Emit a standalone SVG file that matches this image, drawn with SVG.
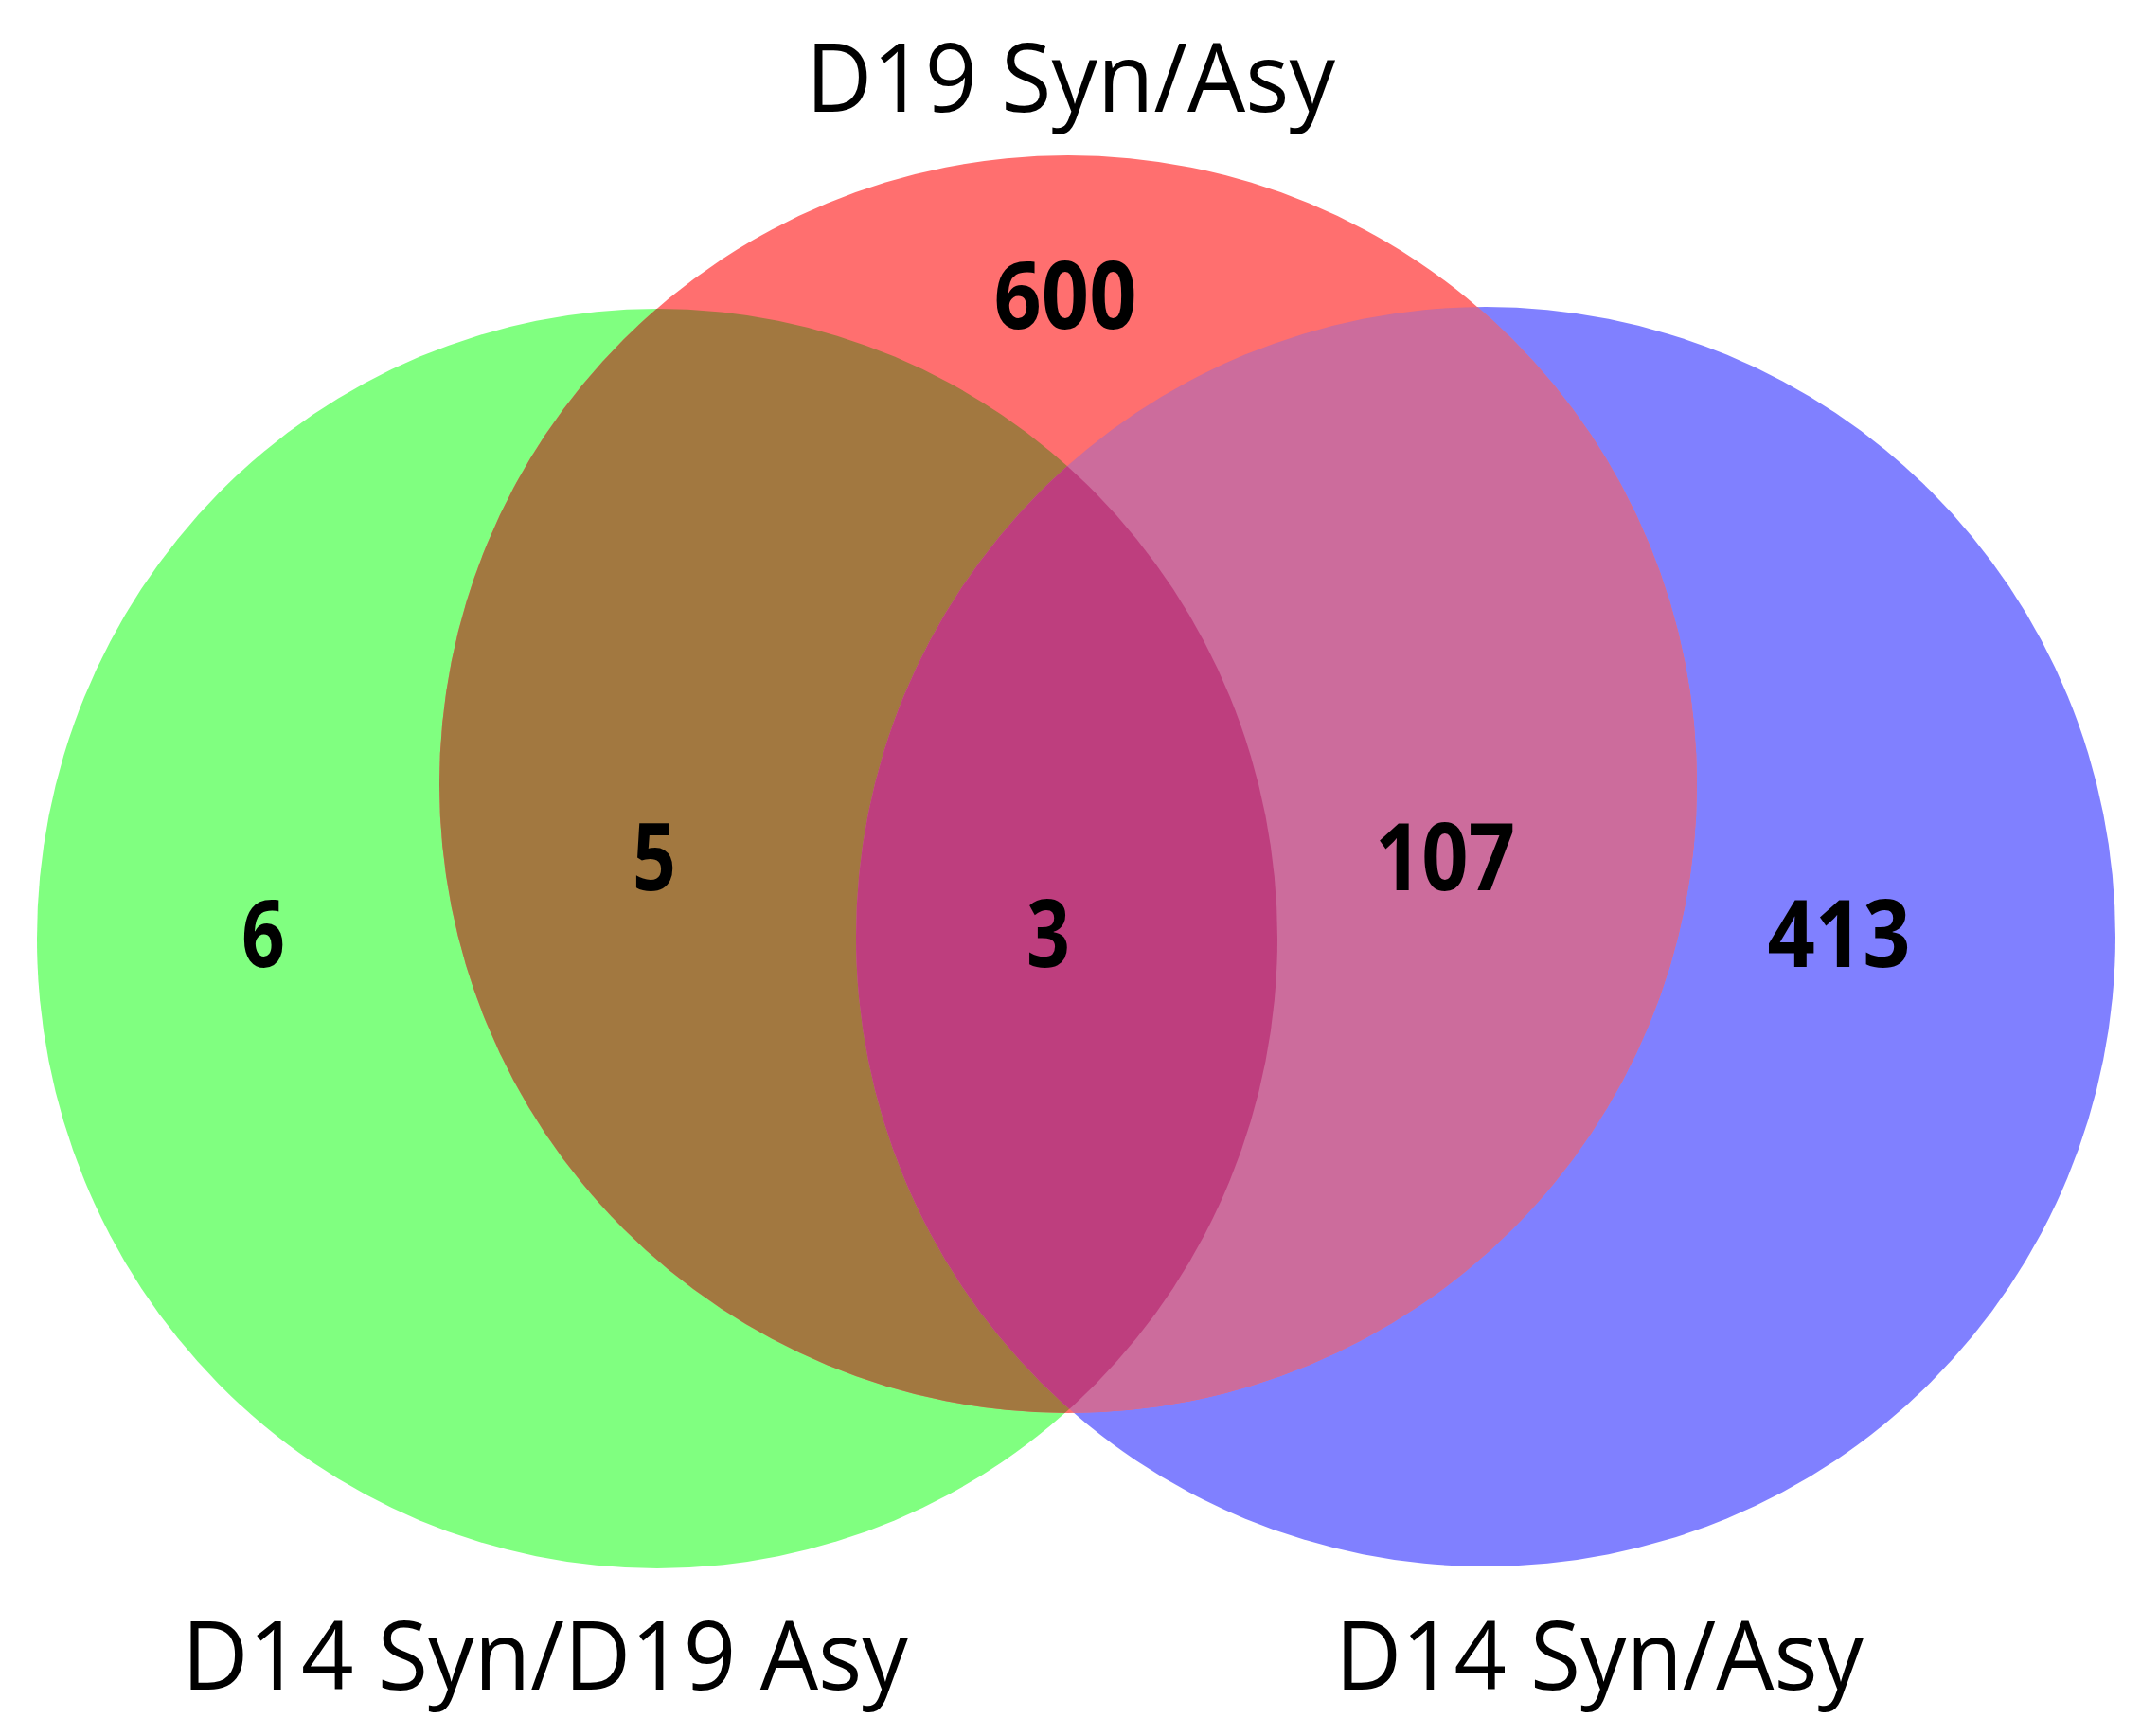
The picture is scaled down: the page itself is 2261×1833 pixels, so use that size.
<svg xmlns="http://www.w3.org/2000/svg" width="2261" height="1833" viewBox="0 0 2261 1833">
<style>
.lbl{font-family:"Open Sans","Liberation Sans",sans-serif;font-size:100px;fill:#000}
.num{font-family:"Open Sans","Liberation Sans",sans-serif;font-size:98px;font-weight:bold;fill:#000;text-anchor:middle}
</style>
<defs>
<clipPath id="cG"><ellipse cx="694" cy="991" rx="655" ry="665"/></clipPath>
<clipPath id="cB"><circle cx="1569" cy="989" r="665"/></clipPath>
</defs>
<rect width="2261" height="1833" fill="#fff"/>
<g id="set-green"><ellipse cx="694" cy="991" rx="655" ry="665" fill="#80FF80"/></g>
<g id="set-blue"><circle cx="1569" cy="989" r="665" fill="#8080FF"/></g>
<g id="set-red"><circle cx="1128" cy="828" r="664" fill="#FF6F6F"/></g>
<g id="overlap-green-red"><circle cx="1128" cy="828" r="664" fill="#A27840" clip-path="url(#cG)"/></g>
<g id="overlap-red-blue"><circle cx="1128" cy="828" r="664" fill="#CC6C9C" clip-path="url(#cB)"/></g>
<g id="overlap-all" clip-path="url(#cG)"><circle cx="1128" cy="828" r="664" fill="#BE3E7E" clip-path="url(#cB)"/></g>
<g id="connectors"></g>
<g id="labels">
<text class="lbl" x="851" y="118" textLength="559" lengthAdjust="spacingAndGlyphs">D19 Syn/Asy</text>
<text class="lbl" x="192" y="1784" textLength="767" lengthAdjust="spacingAndGlyphs">D14 Syn/D19 Asy</text>
<text class="lbl" x="1410" y="1784" textLength="558" lengthAdjust="spacingAndGlyphs">D14 Syn/Asy</text>
</g>
<g id="counts">
<text class="num" x="1125" y="347" textLength="151" lengthAdjust="spacingAndGlyphs">600</text>
<text class="num" x="691" y="940" textLength="46" lengthAdjust="spacingAndGlyphs">5</text>
<text class="num" x="278" y="1021" textLength="46" lengthAdjust="spacingAndGlyphs">6</text>
<text class="num" x="1107" y="1021" textLength="46" lengthAdjust="spacingAndGlyphs">3</text>
<text class="num" x="1526" y="940" textLength="148" lengthAdjust="spacingAndGlyphs">107</text>
<text class="num" x="1942" y="1021" textLength="151" lengthAdjust="spacingAndGlyphs">413</text>
</g>
</svg>
